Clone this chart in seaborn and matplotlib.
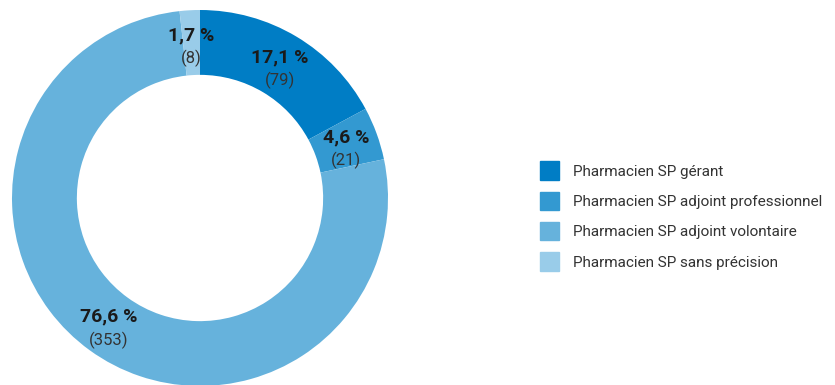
import numpy as np
import matplotlib
matplotlib.use("Agg")
import matplotlib.pyplot as plt
import seaborn as sns

categories = [
    "Pharmacien SP gérant",
    "Pharmacien SP adjoint professionnel",
    "Pharmacien SP adjoint volontaire",
    "Pharmacien SP sans précision",
]
counts = [79, 21, 353, 8]
pct_labels = ["17,1 %", "4,6 %", "76,6 %", "1,7 %"]
colors = ["#007dc5", "#3399d1", "#66b2dc", "#99cce9"]

sns.set_style("white")
plt.rcParams["font.family"] = ["Roboto", "DejaVu Sans"]

fig = plt.figure(figsize=(8.35, 3.85), dpi=100)
W, H = 835, 385
cx, cy, R = 200, 198, 188
ax = fig.add_axes([(cx - R) / W, (H - cy - R) / H, 2 * R / W, 2 * R / H])

wedges, _ = ax.pie(
    counts, colors=colors, startangle=90, counterclock=False,
    radius=1, wedgeprops=dict(width=0.345, linewidth=0),
)
ax.set_xlim(-1, 1)
ax.set_ylim(-1, 1)
ax.set_aspect("equal")
ax.axis("off")

# labels in the middle of the ring
r_lab = 1 - 0.345 / 2
for w, pct, n in zip(wedges, pct_labels, counts):
    ang = np.deg2rad((w.theta1 + w.theta2) / 2)
    x, y = r_lab * np.cos(ang), r_lab * np.sin(ang)
    ax.text(x, y - 0.01, pct, ha="center", va="bottom", fontsize=14,
            fontweight="bold", color="#1a1a1a")
    ax.text(x, y - 0.04, f"({n})", ha="center", va="top", fontsize=12,
            color="#333333")

# legend
handles = [plt.Rectangle((0, 0), 1, 1, color=c) for c in colors]
fig.legend(handles, categories, loc="center left",
           bbox_to_anchor=(526 / W, 1 - 216 / H), frameon=False,
           fontsize=11, handlelength=1.25, handleheight=1.45,
           handletextpad=0.95, labelspacing=0.8, labelcolor="#333333")

fig.savefig("out.png", dpi=100)
